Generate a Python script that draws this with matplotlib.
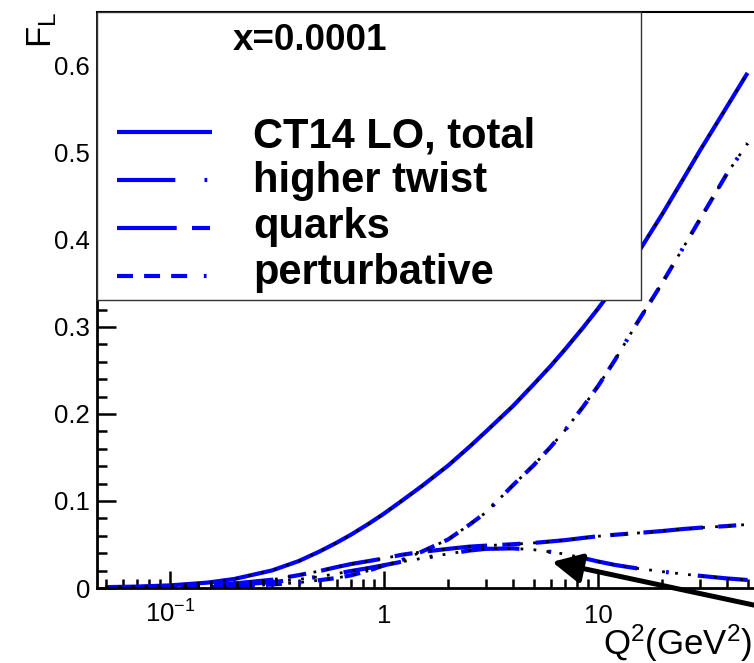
import matplotlib
matplotlib.use("Agg")
import matplotlib.pyplot as plt
from matplotlib.lines import Line2D
from matplotlib.patches import Rectangle
from matplotlib.ticker import LogLocator, MultipleLocator, NullFormatter

plt.rcParams['font.family'] = ['Liberation Sans', 'DejaVu Sans']
plt.rcParams['mathtext.fontset'] = 'custom'
plt.rcParams['mathtext.rm'] = 'Liberation Sans'
plt.rcParams['mathtext.it'] = 'Liberation Sans:italic'
plt.rcParams['mathtext.bf'] = 'Liberation Sans:bold'
plt.rcParams['lines.scale_dashes'] = False

# F_L vs Q^2 at x=0.0001
q2 = [0.05, 0.07, 0.1, 0.15, 0.2, 0.3, 0.4, 0.5, 0.6, 0.7, 0.85, 1.0, 1.2, 1.5, 2, 2.5, 3, 4, 5, 6, 7,
      8.5, 10, 12, 15, 20, 25, 30, 40, 50]
total = [0.0010, 0.0016, 0.0030, 0.0062, 0.0104, 0.0202, 0.0310, 0.0420, 0.0520, 0.0612, 0.0740,
         0.0855, 0.0995, 0.1170, 0.1410, 0.1620, 0.1800, 0.2090, 0.2340, 0.2550, 0.2740, 0.2990,
         0.3210, 0.3470, 0.3810, 0.4300, 0.4700, 0.5030, 0.5530, 0.5920]
higher_twist = [0.0003, 0.0006, 0.0010, 0.0020, 0.0036, 0.0067, 0.0100, 0.0130, 0.0165, 0.0195, 0.0230,
                0.0262, 0.0300, 0.0340, 0.0393, 0.0430, 0.0450, 0.0455, 0.0440, 0.0415, 0.0390, 0.0345,
                0.0305, 0.0265, 0.0228, 0.0188, 0.0160, 0.0140, 0.0110, 0.0092]
quarks = [0.0006, 0.0010, 0.0018, 0.0035, 0.0052, 0.0095, 0.0148, 0.0195, 0.0240, 0.0275, 0.0310,
          0.0340, 0.0380, 0.0415, 0.0450, 0.0475, 0.0487, 0.0503, 0.0518, 0.0535, 0.0550, 0.0575,
          0.0595, 0.0612, 0.0630, 0.0655, 0.0678, 0.0693, 0.0712, 0.0730]
perturbative = [0.0003, 0.0004, 0.0007, 0.0012, 0.0015, 0.0040, 0.0062, 0.0090, 0.0115, 0.0145, 0.0200,
                0.0260, 0.0315, 0.0417, 0.0560, 0.0725, 0.0870, 0.1180, 0.1410, 0.1620, 0.1810, 0.2080,
                0.2320, 0.2620, 0.3020, 0.3510, 0.3910, 0.4240, 0.4760, 0.5110]

labels = ["CT14 LO, total", "higher twist", "quarks", "perturbative"]
styles = ["-", (0, (42, 21, 2, 21)), (0, (43, 11, 13, 11)), (0, (11.5, 8, 11.5, 8, 11.5, 12, 2, 12))]
header = "x=0.0001"

arrow_head = (6.1, 0.030)
arrow_tail = (88.0, -0.031)

W, H = 754, 663


def fx(px):
    return px / W


def fy(py):
    return 1 - py / H


fig = plt.figure(figsize=(W / 100, H / 100), dpi=100)
ax = fig.add_axes([fx(97), fy(588), (760 - 97) / W, (588 - 12) / H])
ax.set_xscale("log")
ax.set_xlim(0.0456, 57.15)
ax.set_ylim(0, 0.662)

series = [total, higher_twist, quarks, perturbative]
for vals, ls in zip(series, styles):
    ax.plot(q2, vals, color="blue", lw=3, linestyle=ls, dash_capstyle="butt",
            solid_capstyle="butt", zorder=2)
    ax.plot(q2, vals, color="black", lw=2, linestyle=(0, (2, 7.4)), dash_capstyle="butt", zorder=3)

# axes styling, root-like
for side in ["left", "bottom"]:
    ax.spines[side].set_linewidth(2)
ax.spines["top"].set_linewidth(1.5)
ax.spines["right"].set_linewidth(1.5)

ax.set_xticks([0.1, 1, 10])
ax.set_xticklabels([r"$\mathregular{10^{-1}}$", "1", "10"])
ax.xaxis.set_minor_locator(LogLocator(base=10, subs=[2, 3, 4, 5, 6, 7, 8, 9], numticks=20))
ax.xaxis.set_minor_formatter(NullFormatter())
ax.yaxis.set_major_locator(MultipleLocator(0.1))
ax.yaxis.set_minor_locator(MultipleLocator(0.02))
ax.yaxis.set_major_formatter(plt.FuncFormatter(lambda v, p: "0" if abs(v) < 1e-9 else f"{v:.1f}"))

ax.tick_params(axis="both", which="both", direction="in", top=False, right=False, labelsize=18.5, width=1.8)
ax.tick_params(axis="y", which="major", length=13.7, pad=5)
ax.tick_params(axis="y", which="minor", length=7)
ax.tick_params(axis="x", which="major", length=12, pad=25)
ax.tick_params(axis="x", which="minor", length=6.5)
for t in ax.get_xticklabels():
    t.set_va("baseline")

# axis titles
fig.text(fx(752), fy(655), r"$\mathregular{Q^2(GeV^2)}$", fontsize=25, ha="right", va="baseline")
fig.text(fx(42), fy(12), r"$\mathregular{F_L}$", fontsize=25, rotation=90, ha="center", va="top")

# legend box
ax.add_patch(Rectangle((fx(97), fy(300)), fx(641) - fx(97), fy(12) - fy(300), transform=fig.transFigure,
                       facecolor="white", edgecolor="#333333", lw=1, zorder=5, clip_on=False))
fig.text(fx(233), fy(50), header, fontsize=26.5, fontweight="bold", ha="left", va="baseline", zorder=6)
line_y = [131.7, 180, 227.7, 276]
text_y = [147, 192, 238, 284]
for lab, ls, ly, ty in zip(labels, styles, line_y, text_y):
    ax.add_line(Line2D([fx(117), fx(212)], [fy(ly), fy(ly)], transform=fig.transFigure, color="blue",
                       lw=3, linestyle=ls, dash_capstyle="butt", solid_capstyle="butt", zorder=6,
                       clip_on=False))
    fig.text(fx(253), fy(ty), lab, fontsize=30, fontweight="bold", ha="left", va="baseline", zorder=6)

ax.annotate("", xy=arrow_head, xytext=arrow_tail, annotation_clip=False,
            arrowprops=dict(arrowstyle="-|>,head_length=0.4,head_width=0.2", color="black", lw=3.6,
                            mutation_scale=45, shrinkA=0, shrinkB=0))

fig.savefig("out.png", dpi=100)
